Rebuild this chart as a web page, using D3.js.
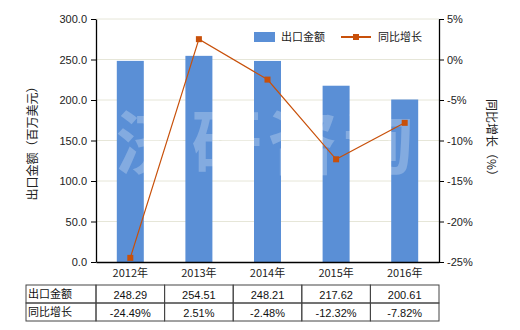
<!DOCTYPE html>
<html>
<head>
<meta charset="utf-8">
<script src="https://cdn.jsdelivr.net/npm/d3@7"></script>
<style>
  body { margin: 0; background: #fff; }
  text { font-family: "Noto Sans CJK SC", "DejaVu Sans", sans-serif; }
</style>
</head>
<body>
<div id="chart"></div>
<script>
// data
var years = ["2012年", "2013年", "2014年", "2015年", "2016年"]
var exportValues = [248.29, 254.51, 248.21, 217.62, 200.61]
var growthRates = [-24.49, 2.51, -2.48, -12.32, -7.82]
var leftTicks = [0, 50, 100, 150, 200, 250, 300]
var rightTicks = [-25, -20, -15, -10, -5, 0, 5]

var W = 520, H = 330
var margin = {top: 19, left: 96, right: 81, bottom: 68}
var width = W - margin.left - margin.right,
    height = H - margin.top - margin.bottom

var barColor = "#5a8fd6", lineColor = "#c8500a", gridColor = "#e6e6d8"
var numFont = "'Liberation Sans', sans-serif"

var svg = d3.select("#chart").append("svg")
    .attr("width", W).attr("height", H)

var g = svg.append("g")
    .attr("transform", "translate(" + margin.left + "," + margin.top + ")")

var x = d3.scaleBand().domain(years).range([0, width])
var y = d3.scaleLinear().domain([0, 300]).range([height, 0])
var y2 = d3.scaleLinear().domain([-25, 5]).range([height, 0])

// gridlines
g.selectAll(".grid").data(leftTicks.slice(1))
  .enter().append("line")
  .attr("x1", 0).attr("x2", width)
  .attr("y1", d => y(d)).attr("y2", d => y(d))
  .attr("stroke", gridColor).attr("stroke-width", 1)

// bars
var bw = 27
g.selectAll(".bar").data(exportValues)
  .enter().append("rect")
  .attr("x", (d, i) => x(years[i]) + x.bandwidth() / 2 - bw / 2)
  .attr("y", d => y(d))
  .attr("width", bw)
  .attr("height", d => height - y(d))
  .attr("fill", barColor)

// watermark
g.append("text")
  .attr("x", width / 2).attr("y", height / 2 + 28)
  .attr("text-anchor", "middle")
  .style("font-size", "70px").style("font-weight", "bold")
  .attr("fill", "#ffffff").attr("fill-opacity", 0.25)
  .attr("letter-spacing", "6px")
  .text("济研咨询")

// line
var line = d3.line()
  .x((d, i) => x(years[i]) + x.bandwidth() / 2)
  .y(d => y2(d))
g.append("path").datum(growthRates)
  .attr("d", line).attr("fill", "none")
  .attr("stroke", lineColor).attr("stroke-width", 1.2)
g.selectAll(".pt").data(growthRates)
  .enter().append("rect")
  .attr("x", (d, i) => x(years[i]) + x.bandwidth() / 2 - 3)
  .attr("y", d => y2(d) - 3)
  .attr("width", 6).attr("height", 6)
  .attr("fill", lineColor)

// axes
var leftAxis = g.append("g")
  .call(d3.axisLeft(y).tickValues(leftTicks).tickFormat(d3.format(".1f")).tickSize(5).tickSizeOuter(0))
var rightAxis = g.append("g")
  .attr("transform", "translate(" + width + ",0)")
  .call(d3.axisRight(y2).tickValues(rightTicks).tickFormat(d => d + "%").tickSize(5).tickSizeOuter(0))
var bottomAxis = g.append("g")
  .attr("transform", "translate(0," + height + ")")
  .call(d3.axisBottom(x).tickSize(0).tickSizeOuter(0))

;[leftAxis, rightAxis, bottomAxis].forEach(function(a) {
  a.select(".domain").attr("stroke", "#000").attr("stroke-width", 1.3)
  a.selectAll(".tick line").attr("stroke", "#000")
  a.selectAll("text").style("font-size", "11px").attr("fill", "#222")
    .style("font-family", numFont)
})
leftAxis.selectAll("text").attr("dx", "-1")
bottomAxis.selectAll("text").attr("dy", "1.1em")
  .style("font-family", "'Noto Sans CJK SC', sans-serif")

// axis titles
svg.append("text")
  .attr("transform", "translate(37," + (margin.top + height / 2) + ") rotate(-90)")
  .attr("text-anchor", "middle").style("font-size", "12px").attr("fill", "#222")
  .text("出口金额（百万美元）")
svg.append("text")
  .attr("transform", "translate(487," + (margin.top + height / 2) + ") rotate(90)")
  .attr("text-anchor", "middle").style("font-size", "12px").attr("fill", "#222")
  .text("同比增长（%）")

// legend
var legend = svg.append("g")
legend.append("rect").attr("x", 254).attr("y", 32).attr("width", 21).attr("height", 10).attr("fill", barColor)
legend.append("text").attr("x", 281).attr("y", 41).style("font-size", "11px").attr("fill", "#222").text("出口金额")
legend.append("line").attr("x1", 341).attr("x2", 371).attr("y1", 37).attr("y2", 37)
  .attr("stroke", lineColor).attr("stroke-width", 2)
legend.append("rect").attr("x", 353).attr("y", 34).attr("width", 6).attr("height", 6).attr("fill", lineColor)
legend.append("text").attr("x", 378).attr("y", 41).style("font-size", "11px").attr("fill", "#222").text("同比增长")

// table
var tTop = 285, rowH = 18, firstW = margin.left - 26
var table = svg.append("g")
var rows = [
  {label: "出口金额", vals: exportValues.map(d => d.toFixed(2))},
  {label: "同比增长", vals: growthRates.map(d => d.toFixed(2) + "%")}
]
rows.forEach(function(r, ri) {
  var ty = tTop + ri * rowH
  table.append("rect").attr("x", 26).attr("y", ty).attr("width", firstW).attr("height", rowH)
    .attr("fill", "none").attr("stroke", "#444")
  table.append("text").attr("x", 28).attr("y", ty + 13).style("font-size", "11px").attr("fill", "#111").text(r.label)
  r.vals.forEach(function(v, i) {
    table.append("rect").attr("x", margin.left + x(years[i])).attr("y", ty)
      .attr("width", x.bandwidth()).attr("height", rowH)
      .attr("fill", "none").attr("stroke", "#444")
    table.append("text").attr("x", margin.left + x(years[i]) + x.bandwidth() / 2).attr("y", ty + 14)
      .attr("text-anchor", "middle").style("font-size", "11px")
      .style("font-family", numFont).attr("fill", "#111").text(v)
  })
})
</script>
</body>
</html>
